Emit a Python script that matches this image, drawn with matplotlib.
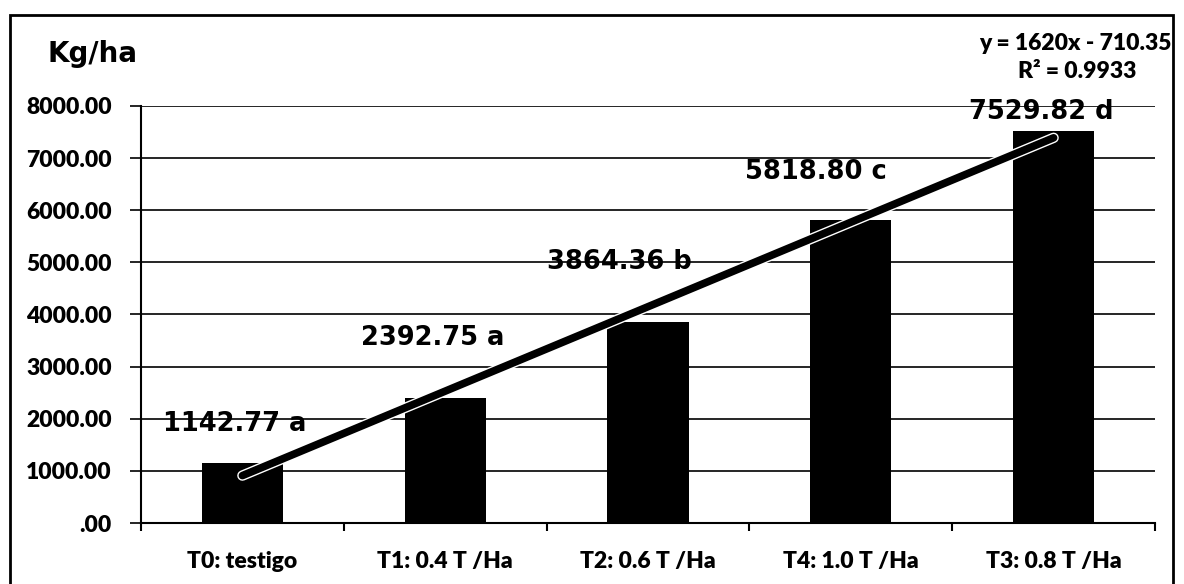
import matplotlib
matplotlib.use("Agg")
import matplotlib.pyplot as plt
import matplotlib.patheffects as pe
from matplotlib.patches import Rectangle
import numpy as np

categories = ["T0: testigo", "T1: 0.4 T /Ha", "T2: 0.6 T /Ha", "T4: 1.0 T /Ha", "T3: 0.8 T /Ha"]
values = [1142.77, 2392.75, 3864.36, 5818.80, 7529.82]
letters = ["a", "a", "b", "c", "d"]
trend_slope = 1620
trend_intercept = -710.35
r_squared = 0.9933
y_label = "Kg/ha"

# label placement (layout only)
label_dx = [-0.04, -0.06, -0.14, -0.17, -0.06]
label_y = [1900, 3550, 5010, 6740, 7890]

fig = plt.figure(figsize=(11.84, 5.84), dpi=100)
ax = fig.add_axes([141/1184, 61/584, 1014/1184, 417/584])

x = np.arange(len(categories))
ax.bar(x, values, width=0.40, color="black", zorder=2)

ax.set_xlim(-0.5, len(categories) - 0.5)
ax.set_ylim(0, 8000)
yt = np.arange(0, 8001, 1000)
ax.set_yticks(yt)
ax.set_yticklabels([("%.2f" % v) if v else ".00" for v in yt])
ax.yaxis.grid(True, color="black", linewidth=1.2, zorder=0)
ax.set_axisbelow(True)

ax.set_xticks(x)
ax.set_xticklabels(categories)
ax.set_xticks(np.arange(-0.5, len(categories)), minor=True)
ax.tick_params(axis="x", which="major", length=0, pad=20)
ax.tick_params(axis="x", which="minor", length=6, width=1.5, direction="out")
ax.tick_params(axis="y", length=8, width=1.2, pad=13)
for lab in ax.get_xticklabels() + ax.get_yticklabels():
    lab.set_fontfamily("Lato")
    lab.set_fontweight("heavy")
    lab.set_fontsize(16.5)

for s in ["top", "right"]:
    ax.spines[s].set_visible(False)
ax.spines["left"].set_linewidth(1.5)
ax.spines["bottom"].set_linewidth(1.5)

# trend line
xt = np.array([x[0], x[-1]])
yt_line = trend_slope * (xt + 1) + trend_intercept
ax.plot(xt, yt_line, color="black", linewidth=5.5, solid_capstyle="round", zorder=3,
        path_effects=[pe.Stroke(linewidth=7.5, foreground="white"), pe.Normal()])

for i, (v, l) in enumerate(zip(values, letters)):
    ax.text(i + label_dx[i], label_y[i], "%.2f %s" % (v, l), ha="center", va="center",
            fontsize=18.5, fontweight="bold", family="DejaVu Sans", zorder=4)

fig.text(47/1184, 1 - 54/584, y_label, ha="left", va="center", fontsize=20,
         fontweight="bold", family="DejaVu Sans")
fig.text(1075/1184, 1 - 43/584, "y = %gx - %.2f" % (trend_slope, -trend_intercept),
         ha="center", va="center", fontsize=16.5, fontweight="heavy", family="Lato")
fig.text(1077/1184, 1 - 72/584, "R² = %.4f" % r_squared,
         ha="center", va="center", fontsize=16.5, fontweight="heavy", family="Lato")

fig.patches.append(Rectangle((10/1184, -0.05), 1173/1184 - 10/1184, 1 - 15/584 + 0.05,
                             transform=fig.transFigure, fill=False, edgecolor="black",
                             linewidth=2, clip_on=False))

fig.savefig("out.png", dpi=100)
